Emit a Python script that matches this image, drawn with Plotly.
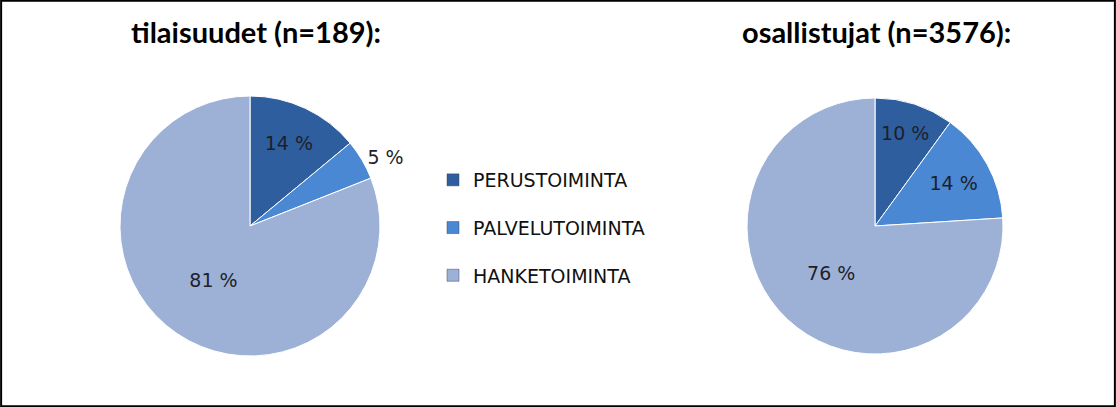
import plotly.graph_objects as go

categories = ["PERUSTOIMINTA", "PALVELUTOIMINTA", "HANKETOIMINTA"]
tilaisuudet_pct = [14, 5, 81]
osallistujat_pct = [10, 14, 76]
titles = ["tilaisuudet (n=189):", "osallistujat (n=3576):"]
colors = ["#2E5E9E", "#4A88D3", "#9DB1D6"]

W, H = 1116, 407

fig = go.Figure()

def px_dom(x0, x1, y0, y1):
    return dict(x=[x0 / W, x1 / W], y=[1 - y1 / H, 1 - y0 / H])

LBL = dict(family="DejaVu Sans", size=19, color="#1F1F2A")

fig.add_trace(go.Pie(
    labels=categories, values=tilaisuudet_pct, sort=False, direction="clockwise",
    rotation=0, marker=dict(colors=colors, line=dict(color="#FFFFFF", width=1)),
    texttemplate="%{value} %", textposition=["inside", "outside", "inside"],
    insidetextorientation="horizontal",
    textfont=LBL, outsidetextfont=LBL,
    domain=px_dom(106, 394, 96, 356), showlegend=False, hoverinfo="label+percent",
))
fig.add_trace(go.Pie(
    labels=categories, values=osallistujat_pct, sort=False, direction="clockwise",
    rotation=0, marker=dict(colors=colors, line=dict(color="#FFFFFF", width=1)),
    texttemplate="%{value} %", textposition="inside",
    insidetextorientation="horizontal",
    textfont=LBL,
    domain=px_dom(747, 1003, 97, 355), showlegend=False, hoverinfo="label+percent",
))

# legend entries
for i, (c, col) in enumerate(zip(categories, colors)):
    fig.add_trace(go.Scatter(
        x=[None], y=[None], mode="markers", name=c, legendgroup=f"g{i}",
        marker=dict(symbol="square", size=12, color=col, line=dict(color="#3A4A6A", width=0.5)),
        showlegend=True,
    ))

fig.update_layout(
    width=W, height=H, margin=dict(l=0, r=0, t=0, b=0),
    paper_bgcolor="white", plot_bgcolor="white",
    xaxis=dict(visible=False), yaxis=dict(visible=False),
    legend=dict(x=433 / W, y=1 - 161 / H, xanchor="left", yanchor="top",
                font=dict(family="DejaVu Sans", size=19, color="#111111"),
                tracegroupgap=20, itemwidth=30, bgcolor="rgba(0,0,0,0)"),
    annotations=[
        dict(text=f"<b>{titles[0]}</b>", x=256 / W, y=1 - 31 / H, xref="paper", yref="paper",
             xanchor="center", yanchor="middle",
             showarrow=False, font=dict(family="Lato", size=29, color="#000000")),
        dict(text=f"<b>{titles[1]}</b>", x=876 / W, y=1 - 31 / H, xref="paper", yref="paper",
             xanchor="center", yanchor="middle",
             showarrow=False, font=dict(family="Lato", size=29, color="#000000")),
    ],
    shapes=[dict(type="rect", xref="paper", yref="paper", x0=0.001, y0=0.002, x1=0.999, y1=0.998,
                 line=dict(color="black", width=2))],
)

fig.write_html("out.html", config={"displayModeBar": False},
               post_script="document.body.style.margin='0';")
